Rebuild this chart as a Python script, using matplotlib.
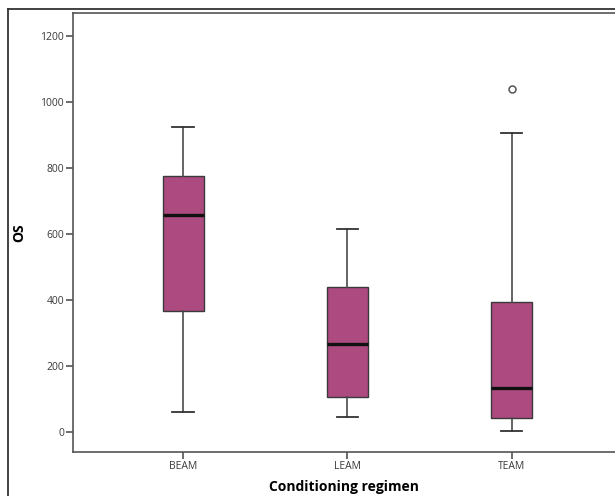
import matplotlib
matplotlib.use("Agg")
import matplotlib.pyplot as plt
from matplotlib.lines import Line2D

# box summary values
groups = ["BEAM", "LEAM", "TEAM"]
whis_lo = [62, 45, 5]
q1 = [367, 107, 42]
medians = [658, 268, 133]
q3 = [776, 440, 395]
whis_hi = [925, 617, 905]
outliers = [[], [], [1040]]
yticks = [0, 200, 400, 600, 800, 1000, 1200]

plt.rcParams['font.family'] = ['Open Sans', 'DejaVu Sans']

fig = plt.figure(figsize=(6.15, 4.96), dpi=100)
W, H = 615, 496
ax = fig.add_axes([73 / W, (H - 452) / H, (W - 73) / W, (452 - 13) / H])

stats = []
for i, g in enumerate(groups):
    stats.append(dict(label=g, whislo=whis_lo[i], q1=q1[i], med=medians[i],
                      q3=q3[i], whishi=whis_hi[i], fliers=outliers[i]))

ax.bxp(stats, positions=[1, 2, 3], widths=0.25, patch_artist=True,
       boxprops=dict(facecolor="#ad4a7f", edgecolor="#3a3a3a", linewidth=1.0),
       medianprops=dict(color="#111111", linewidth=2.4),
       whiskerprops=dict(color="#4a4a4a", linewidth=1.2),
       capprops=dict(color="#333333", linewidth=1.3),
       capwidths=0.13,
       flierprops=dict(marker="o", markerfacecolor="none",
                       markeredgecolor="#555555", markersize=5,
                       markeredgewidth=1.1))

ax.set_xlim(0.33, 3.63)
ax.set_ylim(-60, 1270)
ax.set_yticks(yticks)
ax.set_yticklabels([str(t) for t in yticks])

for side in ["left", "bottom", "top"]:
    ax.spines[side].set_color("#555555")
    ax.spines[side].set_linewidth(1.2)
ax.spines["right"].set_visible(False)

ax.tick_params(axis="both", direction="out", length=5, width=1.1,
               color="#444444", labelsize=7.5, labelcolor="#3a3a3a", pad=1.5)

ax.set_ylabel("OS", fontsize=10, fontweight="bold", labelpad=10)
ax.set_xlabel("Conditioning regimen", fontsize=10, fontweight="bold",
              labelpad=6)

# outer frame, cut off at the right and bottom
fig.add_artist(Line2D([8 / W, 8 / W], [0, 1 - 9 / H], color="#333333",
                      linewidth=1.3, transform=fig.transFigure))
fig.add_artist(Line2D([8 / W, 1], [1 - 9 / H, 1 - 9 / H], color="#333333",
                      linewidth=1.3, transform=fig.transFigure))

fig.savefig("out.png", dpi=100)
